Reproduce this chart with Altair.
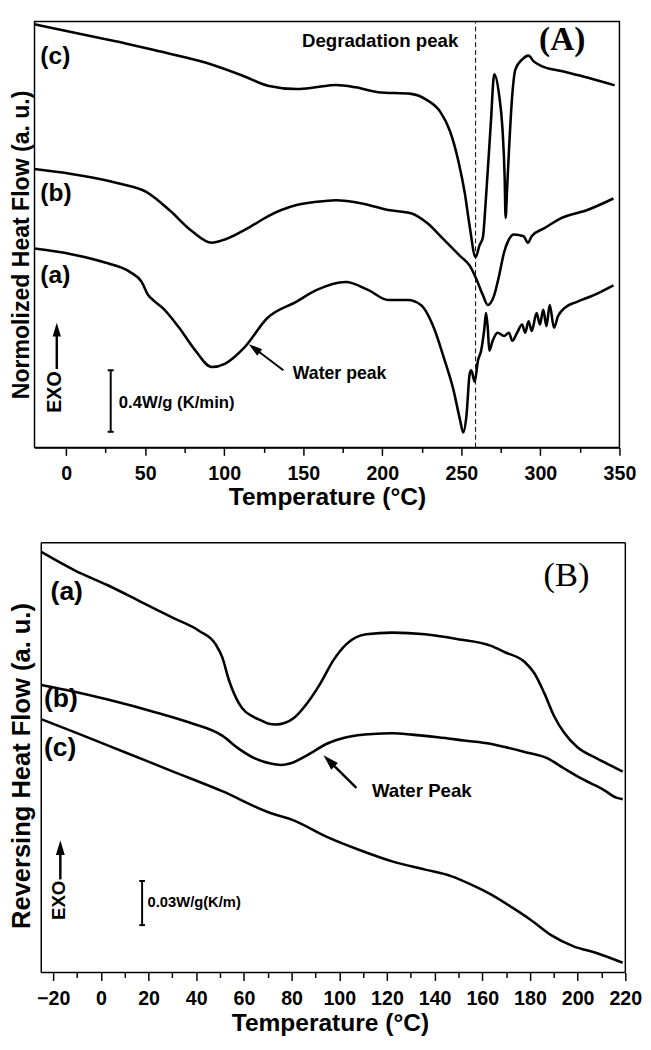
import altair as alt
import pandas as pd

# ---------------- Panel (A): normalized heat flow (a.u.) vs temperature ----------------
A_a_T = [-20, 3.3, 24, 40.5, 47.8, 51.9, 55, 61.2, 71.5, 81.8, 92.1, 100.4, 112.8, 127.3, 145.8,
         158.2, 176.8, 191.3, 203.7, 216.1, 224.4, 232.6, 238.8, 245, 249.1, 251.2, 253.2, 255.3,
         256.3, 258.4, 260.5, 262.5, 264.6, 265.6, 266.7, 267.7, 269.8, 272.9, 277, 280.1, 282.2,
         285.3, 288.4, 290.4, 292.5, 294.5, 297.6, 299.7, 301.8, 303.8, 305.9, 308.6, 311.1, 315.2,
         323.5, 333.8, 346.2]
A_a_y = [202.7, 197, 188.7, 178.7, 168.7, 155.3, 150.3, 142, 122, 98.7, 82, 85.3, 102, 132, 148.7,
         160.3, 168.7, 160.3, 150.3, 150.3, 145.3, 122, 92, 58.7, 28.7, 15.3, 32, 75.3,
         78.7, 67, 88.7, 98.7, 122, 137, 122, 98.7, 108.7, 117, 113.7, 117, 108.7,
         117, 125.3, 117, 128.7, 118.7, 137, 125.3, 140.3, 123.7, 145.3, 122, 133.7, 142,
         148.7, 155.3, 165.3]
A_b_T = [-20, 3.3, 34.3, 50.9, 65.3, 79.7, 92.1, 100.4, 116.9, 127.3, 145.8, 158.2, 170.6, 187.2,
         203.7, 218.2, 228.4, 238.8, 249.1, 255.3, 259.4, 263.6, 266.7, 270.8, 273.9, 277, 280.1,
         283.2, 289.4, 292.1, 294.5, 302.8, 313.1, 329.7, 346.2]
A_b_y = [283.7, 278.7, 268.7, 260.3, 242, 220.3, 208.7, 212, 225.3, 235.3, 247, 250.3, 252, 248.7,
         242, 238.7, 228.7, 212, 195.3, 185.3, 172, 155.3, 145.3, 155.3, 175.3, 198.7, 212,
         217, 215.3, 208.7, 215.3, 223.7, 233.7, 242, 253.7]
A_c_T = [-20, 22, 37, 59, 88.5, 113, 127.5, 146, 158, 170.6, 183, 197.3, 218.2, 228.3, 236.7,
         242.9, 248.1, 252.2, 255.3, 259, 261.5, 263.6, 265.6, 268.7, 270.8, 273.9, 276, 277.4,
         278, 278.9, 280.1, 282.2, 284.2, 288.4, 292.5, 295.6, 300.8, 313.2, 329.7, 347]
A_c_y = [431.3, 417, 412, 403.7, 392, 378, 368.7, 365.3, 367, 369.3, 367, 362, 360.3, 354, 342,
         322, 292, 259, 225, 194, 206, 214, 255, 332, 380.3, 359, 325, 275,
         234, 262, 302, 359, 385.3, 395.3, 399.3, 393.7, 388.7, 383.7, 377, 369]

# ---------------- Panel (B): reversing heat flow (a.u.) vs temperature ----------------
B_a_T = [-25, -10.8, 2.9, 16.6, 30.3, 41.3, 48.1, 50.9, 53.7, 57.8, 64.6, 67.4, 70.1, 73.5, 77,
         81.1, 86.6, 92.1, 97.5, 103, 111.3, 122.2, 136, 149.7, 163.4, 169.5, 177.8, 181.9, 186,
         190.1, 194.2, 199.8, 208, 214.8, 218.9]
B_a_y = [429, 410, 395, 378.4, 361.7, 348.4, 335, 321.7, 298.4, 275, 260, 257, 254, 253, 254.5,
         260, 275, 295, 318.4, 335, 345, 346.7, 345, 340, 333.4, 326.7, 316.7, 305, 285,
         261.7, 245, 230, 218.4, 210, 205]
B_b_T = [-25, -14.9, 2.9, 23.5, 37.2, 50.9, 57.8, 64.6, 70.8, 75.6, 79.7, 86.6, 94.8, 103, 114,
         122.2, 130.5, 141.4, 152.4, 163.4, 169.5, 177.8, 187.4, 194.2, 202.5, 210.7, 216.2, 218.9]
B_b_y = [293.4, 288.4, 278.4, 265, 255, 241.7, 228.4, 218.4, 213.4, 211.7, 213.4, 221.7, 233.4, 240,
         243.4, 244, 242.7, 240, 236.7, 233.4, 230, 225, 218.4, 208.4, 196.7, 186.7, 178.4, 176.7]
B_c_T = [-25, -10.8, 9.8, 30.3, 50.9, 70.8, 81.1, 94.8, 108.5, 122.2, 136, 146.9, 156.5, 163.4,
         172.3, 180.5, 188.7, 198.3, 207.9, 218.9]
B_c_y = [258.4, 245, 225, 205, 185, 163, 155, 138.4, 125, 113.4, 105, 98.4, 88.4, 80,
         66.7, 53.4, 38.4, 26.7, 20, 10]

# ---------------- axes ----------------
A_ticks = list(range(0, 351, 25))
B_ticks = list(range(-20, 221, 10))
A_xdom = [-20, 350]
A_ydom = [0, 434]
B_frame_T = [-25, 220]           # visible frame of panel (B)
B_xdom = [-27.84, 220]           # plot area reaches a little left of the frame
B_ydom = [0, 438.4]

# ---------------- annotations ----------------
A_lab_text = ["(c)", "(b)", "(a)"]
A_lab_T = [-16.3, -16.3, -16.3]
A_lab_y = [398.7, 258.7, 175.3]
B_lab_text = ["(a)", "(b)", "(c)"]
B_lab_T = [-21.1, -23.9, -23.9]
B_lab_y = [388.4, 278.4, 228.4]

FONT = "Liberation Sans"
SERIF = "Liberation Serif"
LW = 2.6


def line_df(parts):
    rows = []
    for name, T, y in parts:
        for t, v in zip(T, y):
            rows.append({"T": t, "hf": v, "s": name})
    return pd.DataFrame(rows)


def make_panel(p):
    xs = alt.Scale(domain=p["xdom"], nice=False, zero=False)
    ys = alt.Scale(domain=p["ydom"], nice=False, zero=False)
    xax = alt.Axis(values=p["ticks"], labelExpr=f"datum.value % {p['major']} === 0 ? datum.label : ''",
                   tickSize={"condition": {"test": f"datum.value % {p['major']} === 0", "value": 8}, "value": 5},
                   title="Temperature (°C)", titleFont=FONT, titleFontSize=p["xtfs"], titleFontWeight="bold",
                   titleColor="black", titlePadding=p["xtpad"], labelFont=FONT, labelFontSize=20,
                   labelFontWeight="bold", labelColor="black", labelPadding=8.5, labelFlush=False,
                   labelOverlap=False, tickColor="black", tickWidth=1.5, domain=p["xdomain_line"],
                   domainColor="black", domainWidth=1.5, grid=False)
    yax = alt.Axis(title=p["ytitle"], labels=False, ticks=False, domain=False, grid=False,
                   titleFont=FONT, titleFontSize=p["ytfs"], titleFontWeight="bold", titleColor="black",
                   titlePadding=p["ytpad"], titleY=p["ytY"])

    def X(f):
        return alt.X(f"{f}:Q", scale=xs, axis=xax)

    def Y(f):
        return alt.Y(f"{f}:Q", scale=ys, axis=yax)

    lines = alt.Chart(p["lines"]).mark_line(color="black", strokeWidth=LW, interpolate="monotone").encode(
        x=X("T"), y=Y("hf"), detail="s:N")
    layers = [lines]

    labs = alt.Chart(pd.DataFrame({"T": p["lab_T"], "y": p["lab_y"], "t": p["lab_text"]})).mark_text(
        font=FONT, fontSize=p["labfs"], fontWeight="bold", align="left", baseline="middle", color="black"
    ).encode(x=X("T"), y=Y("y"), text="t:N")
    layers.append(labs)

    for t in p["texts"]:
        d = pd.DataFrame({"T": [t["T"]], "y": [t["y"]], "t": [t["text"]]})
        kw = dict(font=t.get("font", FONT), fontSize=t["fs"], fontWeight=t.get("fw", "bold"),
                  align=t.get("align", "left"), baseline="middle", color="black")
        if "angle" in t:
            kw["angle"] = t["angle"]
        layers.append(alt.Chart(d).mark_text(**kw).encode(x=X("T"), y=Y("y"), text="t:N"))

    for s in p["segs"]:
        d = pd.DataFrame({"T": [s[0]], "y": [s[1]], "T2": [s[2]], "y2": [s[3]]})
        kw = dict(color="black", strokeWidth=s[4])
        if len(s) > 5:
            kw["strokeDash"] = s[5]
        layers.append(alt.Chart(d).mark_rule(**kw).encode(
            x=X("T"), y=Y("y"), x2=alt.X2("T2"), y2=alt.Y2("y2")))

    for h in p["heads"]:
        d = pd.DataFrame({"T": [h[0]], "y": [h[1]]})
        layers.append(alt.Chart(d).mark_point(shape="M0,-1L0.6,1L-0.6,1Z", filled=True, color="black",
                                              opacity=1, size=h[2], angle=h[3], strokeWidth=0).encode(
            x=X("T"), y=Y("y")))

    ch = alt.layer(*layers).properties(width=p["width"], height=p["height"])
    if p.get("noframe"):
        ch = ch.properties(view=alt.ViewBackground(stroke="transparent"))
    return ch


A = dict(
    xdom=A_xdom, ydom=A_ydom, ticks=A_ticks, major=50, xtfs=25, xtpad=2, xdomain_line=True,
    width=596, height=434,
    ytitle="Normolized Heat Flow (a. u.)", ytfs=23.5, ytpad=1.5, ytY=227,
    lines=line_df([("a", A_a_T, A_a_y), ("b", A_b_T, A_b_y), ("c", A_c_T, A_c_y)]),
    lab_T=A_lab_T, lab_y=A_lab_y, lab_text=A_lab_text, labfs=25,
    texts=[
        dict(T=198.6, y=414, text="Degradation peak", fs=19, align="center"),
        dict(T=313.8, y=415, text="(A)", fs=34, font=SERIF, align="center"),
        dict(T=-7, y=56.5, text="EXO", fs=20, angle=270, align="center"),
        dict(T=33.3, y=45.3, text="0.4W/g (K/min)", fs=17),
        dict(T=143.4, y=75.3, text="Water peak", fs=18),
    ],
    segs=[
        (259, 0, 259, 434, 1, [5, 3]),
        (-5.9, 80, -5.9, 120, 2.5),
        (28.2, 16, 28.2, 78.7, 2),
        (26.3, 16, 30.1, 16, 2),
        (26.3, 78.7, 30.1, 78.7, 2),
        (137.4, 78.7, 119, 101.1, 2),
    ],
    heads=[(-5.9, 120, 196, 0), (119, 101.1, 196, 307)],
)

fT0, fT1 = B_frame_T
fy0, fy1 = B_ydom
B = dict(
    xdom=B_xdom, ydom=B_ydom, ticks=B_ticks, major=20, xtfs=25, xtpad=3, xdomain_line=False,
    width=602, height=438, noframe=True,
    ytitle="Reversing Heat Flow (a. u.)", ytfs=26, ytpad=0, ytY=227,
    lines=line_df([("a", B_a_T, B_a_y), ("b", B_b_T, B_b_y), ("c", B_c_T, B_c_y)]),
    lab_T=B_lab_T, lab_y=B_lab_y, lab_text=B_lab_text, labfs=27,
    texts=[
        dict(T=195.3, y=405, text="(B)", fs=35, font=SERIF, fw="normal", align="center"),
        dict(T=-17.7, y=73.7, text="EXO", fs=19, angle=270, align="center"),
        dict(T=19.6, y=71.7, text="0.03W/g(K/m)", fs=15),
        dict(T=113.7, y=185, text="Water Peak", fs=19),
    ],
    segs=[
        # frame of panel (B)
        (fT0, fy0, fT0, fy1, 1.5),
        (fT1, fy0, fT1, fy1, 1.5),
        (fT0, fy0, fT1, fy0, 1.5),
        (fT0, fy1, fT1, fy1, 1.5),
        (-17, 95, -17, 127, 2.5),
        (17.3, 48.4, 17.3, 93.4, 2),
        (16.1, 48.4, 18.5, 48.4, 2),
        (16.1, 93.4, 18.5, 93.4, 2),
        (107.2, 188.4, 95.7, 216, 2.5),
    ],
    heads=[(-17, 127.5, 225, 0), (95.7, 216, 256, 315)],
)

chart = alt.concat(make_panel(A), make_panel(B), columns=1, spacing=30).properties(
    padding={"left": 0, "top": 0, "right": 0, "bottom": 0}
).configure_view(stroke="black", strokeWidth=1.5)

chart.save("out.html", embed_options={"renderer": "svg", "actions": False})
